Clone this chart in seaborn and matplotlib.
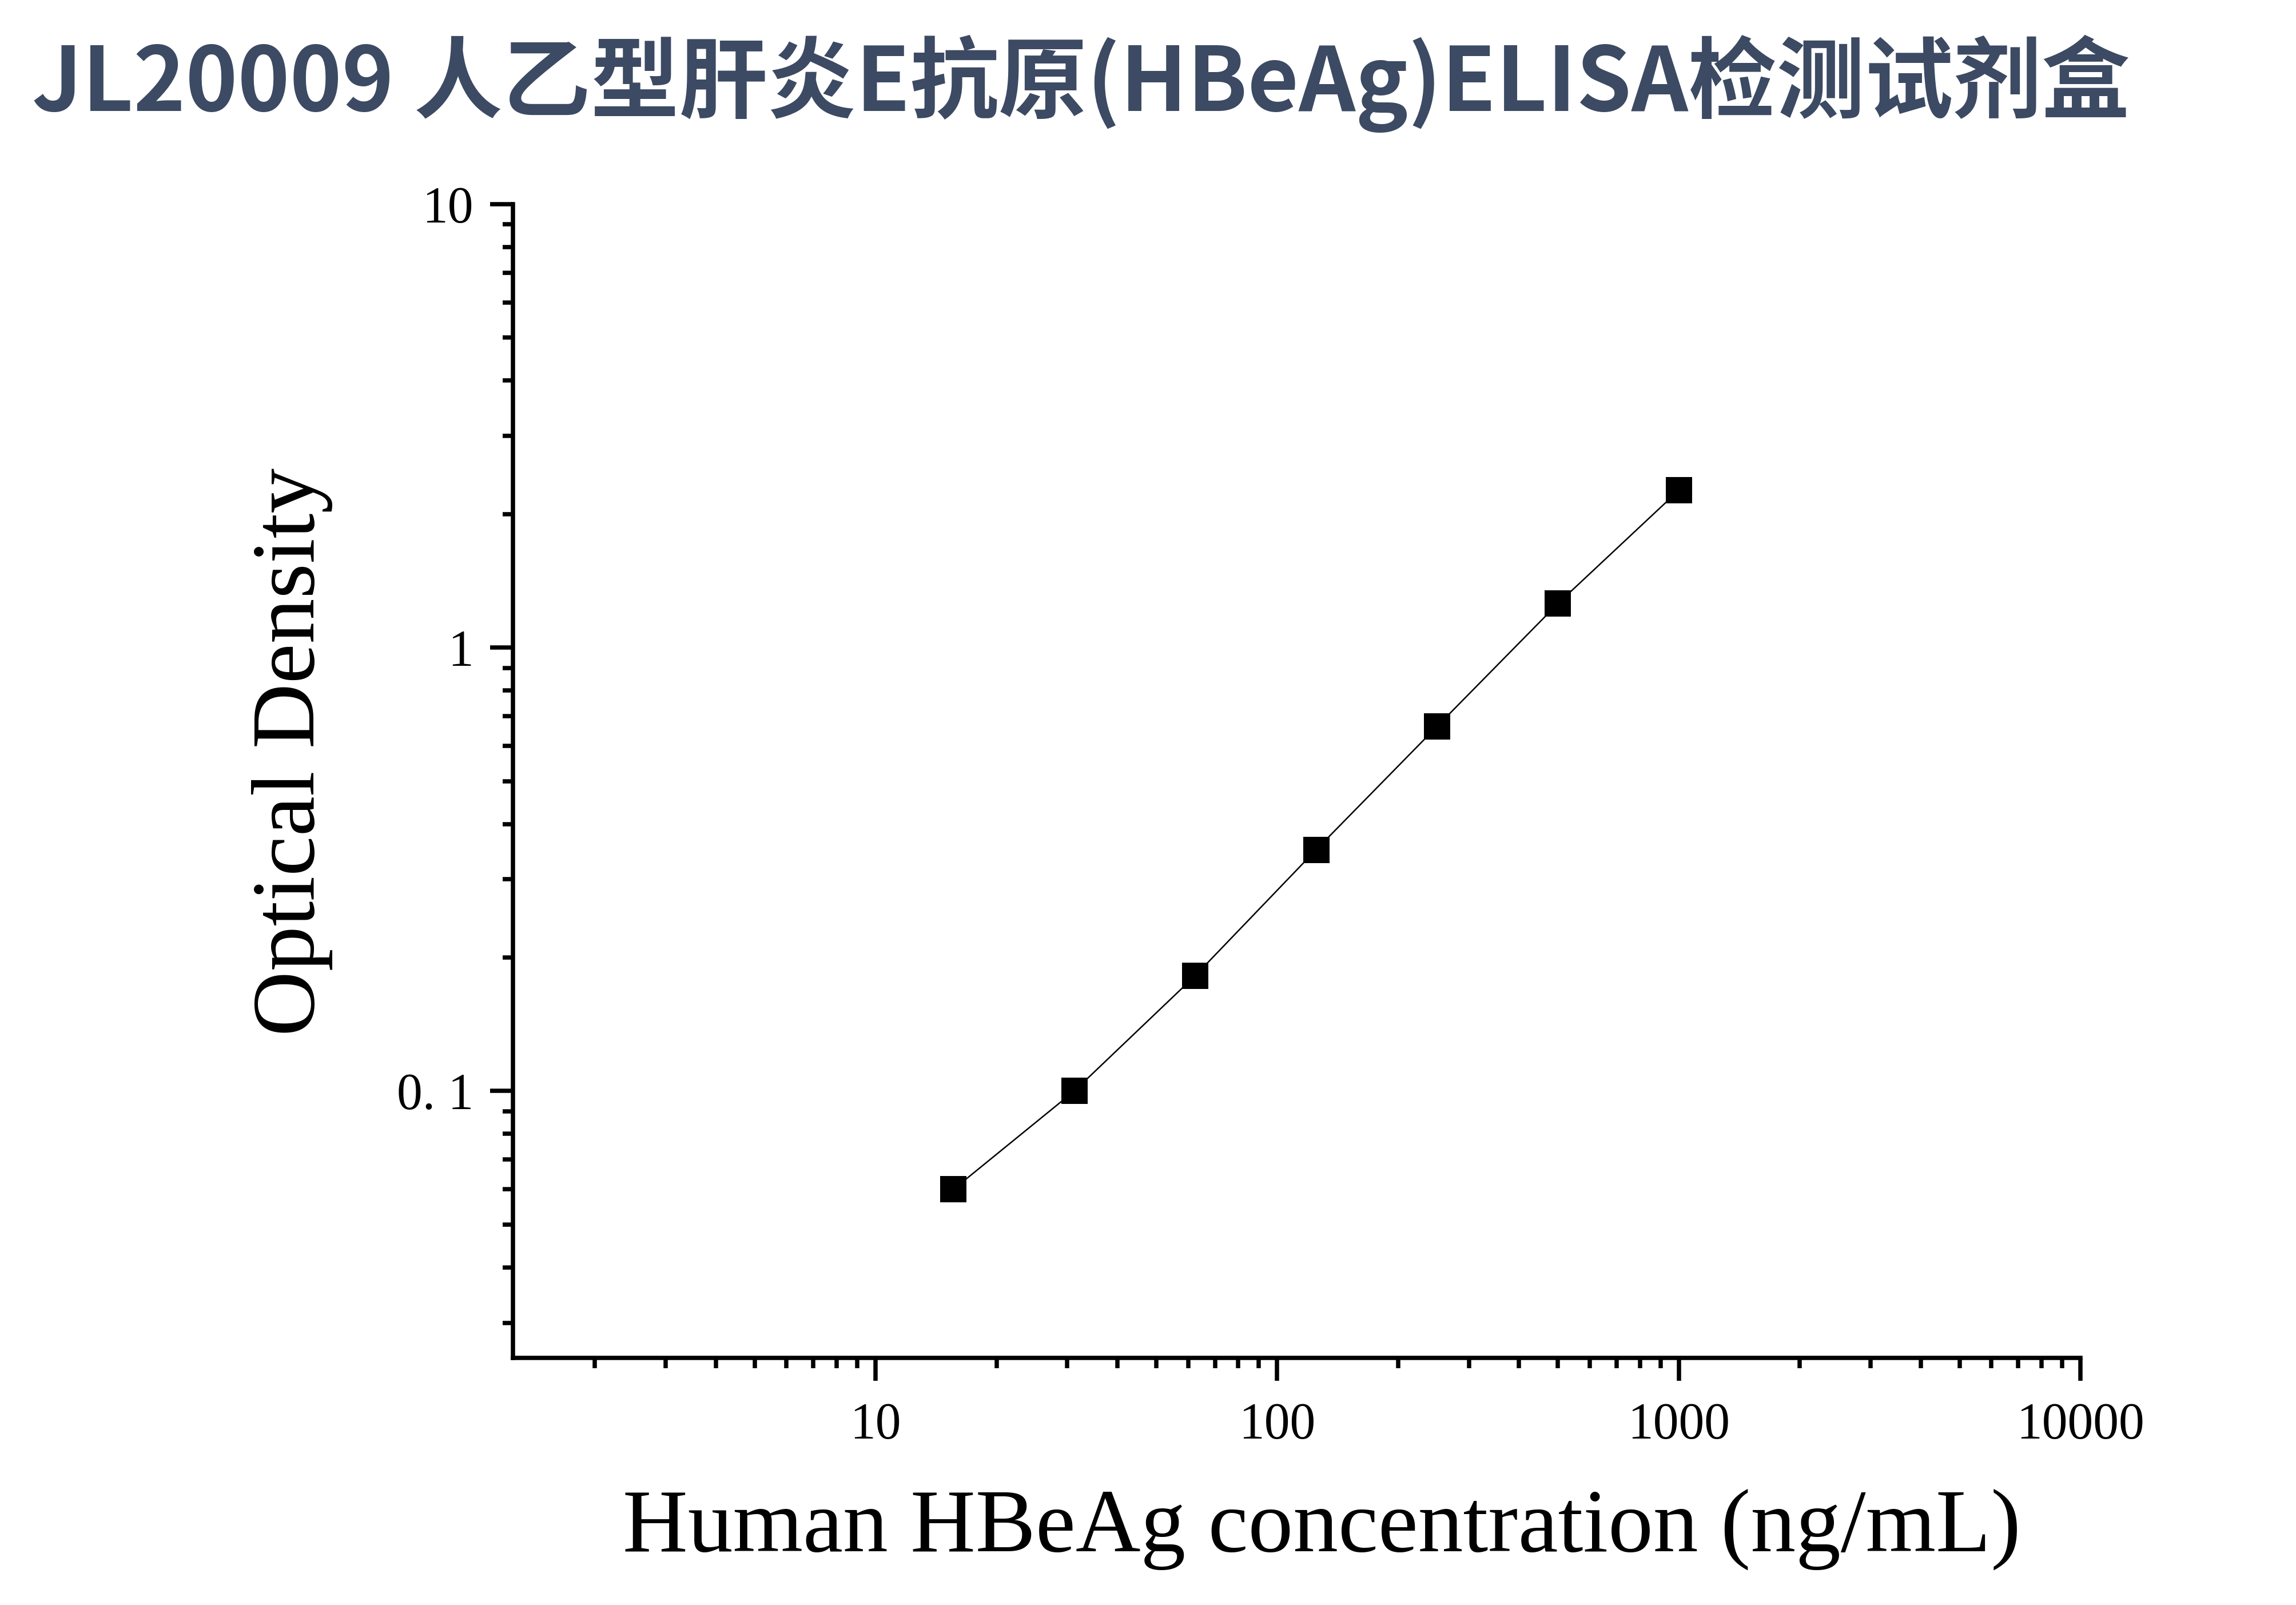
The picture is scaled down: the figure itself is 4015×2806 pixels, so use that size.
import numpy as np
import pandas as pd
import seaborn as sns
import matplotlib.pyplot as plt
from matplotlib.ticker import LogLocator, FixedLocator, FixedFormatter, NullFormatter

# standard curve values
conc = [15.625, 31.25, 62.5, 125, 250, 500, 1000]
od = [0.060, 0.100, 0.182, 0.350, 0.664, 1.257, 2.263]

title = "JL20009 人乙型肝炎E抗原(HBeAg)ELISA检测试剂盒"
xlabel = "Human HBeAg concentration (ng/mL)"
ylabel = "Optical Density"
xticks = [10, 100, 1000, 10000]
xticklabels = ["10", "100", "1000", "10000"]
yticks = [0.1, 1, 10]
yticklabels = ["0. 1", "1", "10"]

df = pd.DataFrame({"conc": conc, "od": od})

sns.set_theme(style="ticks")
plt.rcParams['font.family'] = ['Liberation Serif', 'DejaVu Serif']

fig = plt.figure(figsize=(4015 / 300, 2806 / 300), dpi=300)
ax = fig.add_axes([897 / 4015, 1 - 2374 / 2806, (3638 - 897) / 4015, (2374 - 357) / 2806])

sns.lineplot(data=df, x="conc", y="od", ax=ax, color="black", linewidth=0.6,
             marker="s", markersize=11, markeredgewidth=0, markerfacecolor="black")

ax.set_xscale("log")
ax.set_yscale("log")
ax.set_xlim(1.25, 10000)
ax.set_ylim(0.025, 10)

ax.xaxis.set_major_locator(FixedLocator(xticks))
ax.xaxis.set_major_formatter(FixedFormatter(xticklabels))
ax.yaxis.set_major_locator(FixedLocator(yticks))
ax.yaxis.set_major_formatter(FixedFormatter(yticklabels))
ax.xaxis.set_minor_locator(LogLocator(base=10, subs=np.arange(2, 10)))
ax.yaxis.set_minor_locator(LogLocator(base=10, subs=np.arange(2, 10)))
ax.xaxis.set_minor_formatter(NullFormatter())
ax.yaxis.set_minor_formatter(NullFormatter())

for s in ["top", "right"]:
    ax.spines[s].set_visible(False)
for s in ["left", "bottom"]:
    ax.spines[s].set_linewidth(1.8)
    ax.spines[s].set_color("black")

ax.tick_params(which="major", direction="out", length=9.6, width=1.8, color="black",
               labelsize=21.5, labelcolor="black")
ax.tick_params(which="minor", direction="out", length=4.3, width=1.8, color="black")
ax.tick_params(axis="y", which="major", pad=7)
ax.tick_params(axis="x", which="major", pad=9)

ax.set_xlabel(xlabel, fontsize=37.8, color="black")
ax.set_ylabel(ylabel, fontsize=37.8, color="black")
ax.xaxis.set_label_coords(0.516, -0.114)
ax.yaxis.set_label_coords(-0.115, 0.5255)
ax.grid(False)

fig.text(56 / 4015, 1 - 194 / 2806, title, fontsize=37.1, fontweight="bold",
         color="#3c4a63", family=["Noto Sans CJK SC", "DejaVu Sans"],
         ha="left", va="baseline")

fig.savefig("out.png", dpi=300, facecolor="white")
